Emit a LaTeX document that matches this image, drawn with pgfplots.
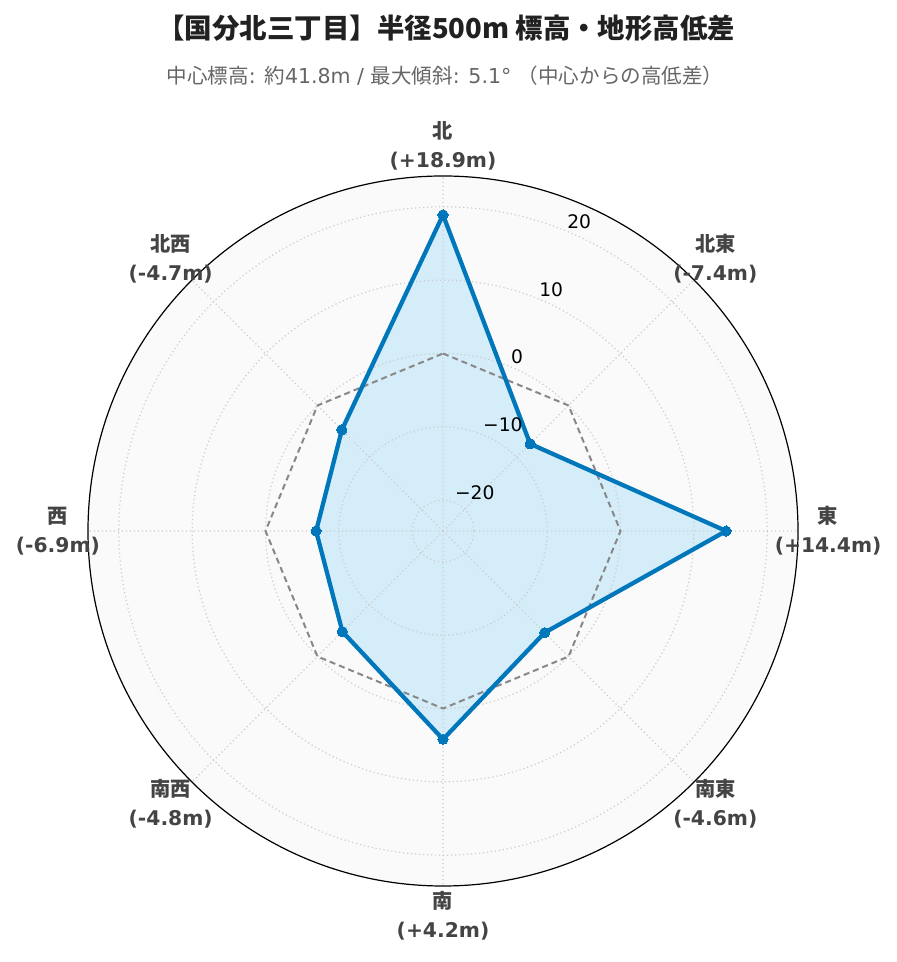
\documentclass[border=0pt]{standalone}
\usepackage{pgfplots}
\pgfplotsset{compat=1.18}
\usepgfplotslibrary{polar}
\usepackage{pgfplotstable}
\usepackage{fontspec}
\setmainfont{DejaVu Sans}
\newfontfamily\cjk{Noto Sans CJK JP}
\definecolor{lineblue}{RGB}{0,119,187}
\definecolor{fillblue}{RGB}{212,237,249}
\definecolor{bggray}{RGB}{250,250,250}
\definecolor{labgray}{RGB}{68,68,68}
\definecolor{subgray}{RGB}{102,102,102}
\definecolor{gridgray}{RGB}{205,205,205}
\definecolor{zerogray}{RGB}{136,136,136}
\pgfplotstableread{
angle value
90 18.9
45 -7.4
0 14.4
-45 -4.6
-90 4.2
-135 -4.8
180 -6.9
135 -4.7
90 18.9
}\dirdata
\pgfplotstableread{
angle value
90 0
45 0
0 0
-45 0
-90 0
-135 0
180 0
135 0
90 0
}\zerodata
\tikzset{
  lab/.style={align=center, inner sep=0pt, text=labgray, font=\bfseries\fontsize{15.2}{21.75}\selectfont},
  rlab/.style={anchor=west, inner sep=0pt, yshift=7.5pt, font=\fontsize{14}{16}\selectfont},
}
\pgfplotsset{radshift/.style={y filter/.code={\pgfmathparse{\pgfmathresult+24.2}}}}
\begin{document}
\begin{tikzpicture}
\begin{polaraxis}[
  set layers,
  scale only axis, width=532.5pt, height=532.5pt,
  xmin=0, xmax=360, ymin=0, ymax=48.4,
  xtick={0,45,...,315}, xticklabels={},
  ytick={4.2,14.2,24.2,34.2,44.2}, yticklabels={},
  major tick length=0pt,
  grid=major,
  major grid style={color=gridgray, line width=0.9pt, dash pattern=on 0.9pt off 2.1pt},
  separate axis lines,
  axis line style={black, line width=0.9pt},
  y axis line style={draw=none},
  clip=false,
]
\coordinate (C) at (axis cs:0,0);
\begin{pgfonlayer}{axis background}
\fill[bggray] (axis cs:0,0) circle[radius=266.25pt];
\end{pgfonlayer}
\addplot[on layer=axis background, fill=fillblue, draw=none, radshift] table[x=angle,y=value] {\dirdata};
\addplot[zerogray, line width=1.5pt, dash pattern=on 4.5pt off 3pt, radshift] table[x=angle,y=value] {\zerodata};
\addplot[lineblue, line width=3.2pt, line join=round, mark=*, mark size=3.8pt, mark options={solid, fill=lineblue, draw=lineblue, line width=0pt}, radshift] table[x=angle,y=value] {\dirdata};
% radial tick labels
\node[rlab] at (axis cs:67.5,4.2) {−20};
\node[rlab] at (axis cs:67.5,14.2) {−10};
\node[rlab] at (axis cs:67.5,24.2) {0};
\node[rlab] at (axis cs:67.5,34.2) {10};
\node[rlab] at (axis cs:67.5,44.2) {20};
% direction labels
\node[lab] at (axis cs:90,52.5) {{\cjk 北}\\(+18.9m)};
\node[lab] at (axis cs:45,52.5) {{\cjk 北東}\\(-7.4m)};
\node[lab] at (axis cs:0,52.5) {{\cjk 東}\\(+14.4m)};
\node[lab] at (axis cs:-45,52.5) {{\cjk 南東}\\(-4.6m)};
\node[lab] at (axis cs:-90,52.5) {{\cjk 南}\\(+4.2m)};
\node[lab] at (axis cs:-135,52.5) {{\cjk 南西}\\(-4.8m)};
\node[lab] at (axis cs:180,52.5) {{\cjk 西}\\(-6.9m)};
\node[lab] at (axis cs:135,52.5) {{\cjk 北西}\\(-4.7m)};
\end{polaraxis}
\node[font=\cjk\bfseries\fontsize{20.6}{24}\selectfont, text=black!87] at ([shift={(2.5pt,377.25pt)}]C) {【国分北三丁目】半径500m 標高・地形高低差};
\node[font=\fontsize{15.4}{18}\selectfont, text=subgray] at ([shift={(1.5pt,341.25pt)}]C) {{\cjk 中心標高}: {\cjk 約}41.8m / {\cjk 最大傾斜}: 5.1° {\cjk （中心からの高低差）}};
\pgfresetboundingbox
\path[use as bounding box] ([shift={(-332.25pt,-323.25pt)}]C) rectangle ([shift={(339.75pt,398.25pt)}]C);
\end{tikzpicture}
\end{document}
